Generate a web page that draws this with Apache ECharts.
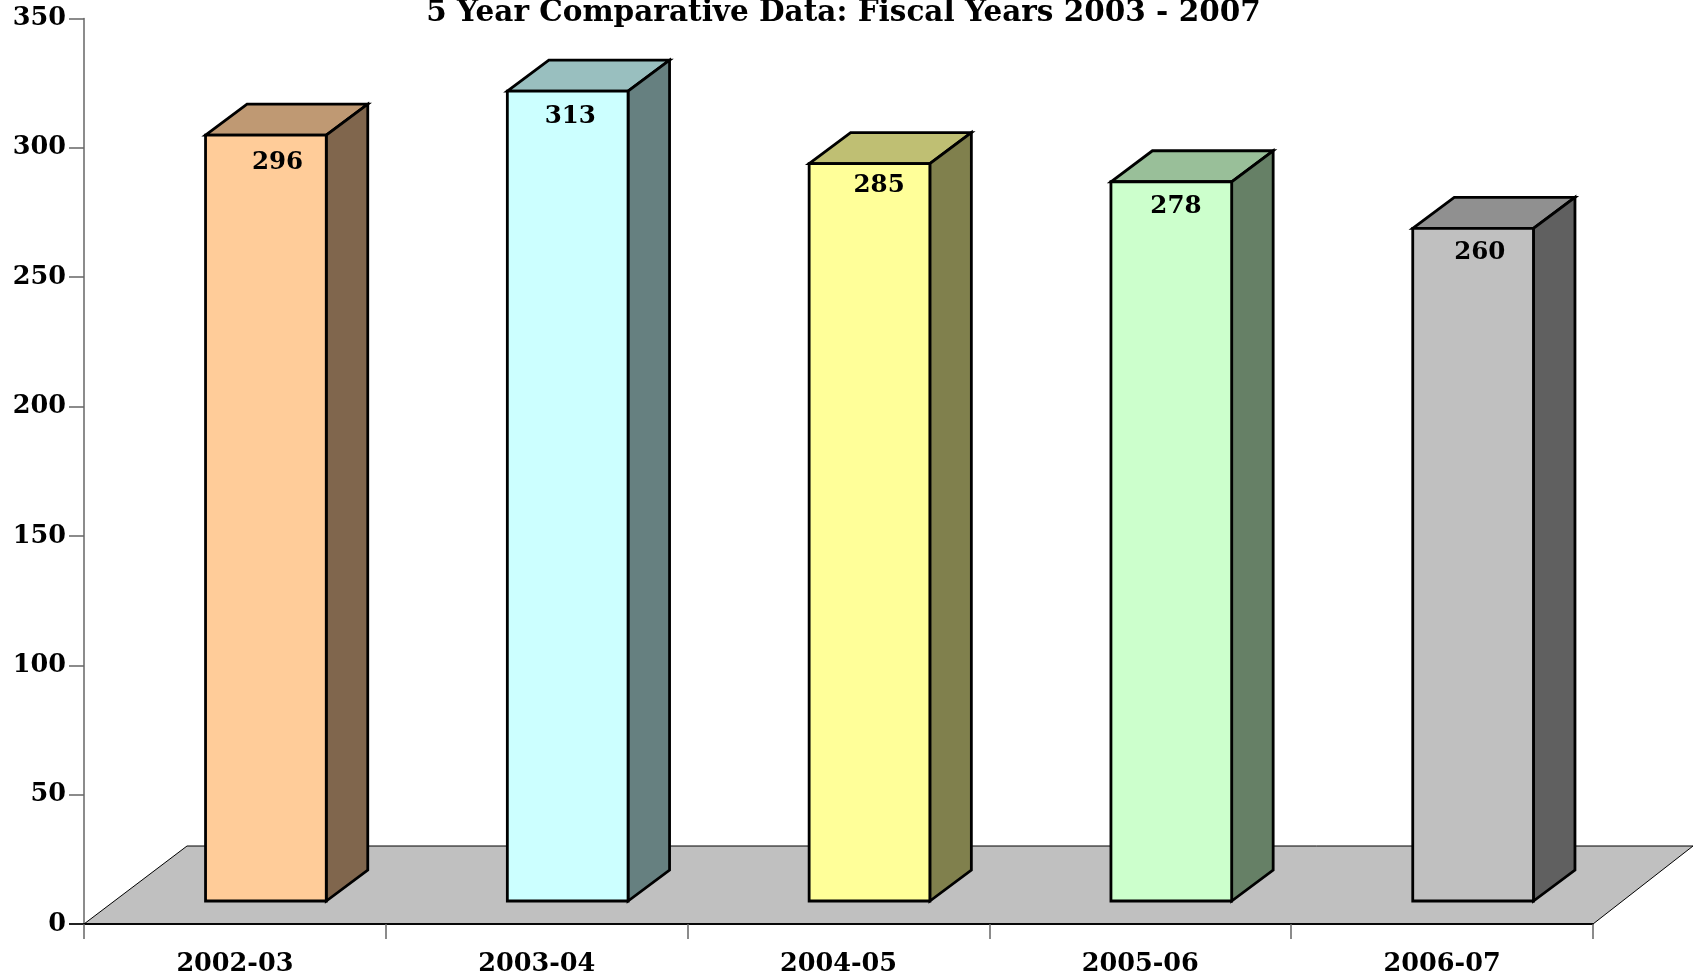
<!DOCTYPE html>
<html>
<head>
<meta charset="utf-8">
<style>html,body{margin:0;padding:0;background:#fff}#chart{width:1693px;height:977px}</style>
<script src="https://cdn.jsdelivr.net/npm/echarts@6/dist/echarts.min.js"></script>
</head>
<body>
<div id="chart"></div>
<script>
const titleText = '5 Year Comparative Data: Fiscal Years 2003 - 2007';
const categories = ['2002-03', '2003-04', '2004-05', '2005-06', '2006-07'];
const values = [296, 313, 285, 278, 260];
const frontColors = ['#FFCC99', '#CCFFFF', '#FFFF99', '#CCFFCC', '#C0C0C0'];

const FONT = '"DejaVu Serif"';
const FLOOR_DX = 100, FLOOR_DY = 78;
const BAR_DX = 41.5, BAR_DY = 31, BASE_LIFT = 23;
const BAR_FRAC = 0.4, BAR_SHIFT = 31;
const LABEL_DX = [72, 63, 70, 65, 67], LABEL_DY = [27, 25, 22, 25, 24];

function shade(hex, f) {
  const n = parseInt(hex.slice(1), 16);
  const c = s => Math.round(((n >> s) & 255) * f);
  return 'rgb(' + c(16) + ',' + c(8) + ',' + c(0) + ')';
}

function renderFloor(params) {
  const g = params.coordSys;
  const xl = g.x, xr = g.x + g.width, yb = g.y + g.height;
  const pts = [[xl, yb], [xr, yb], [xr + FLOOR_DX, yb - FLOOR_DY], [xl + FLOOR_DX + 3, yb - FLOOR_DY]];
  return {
    type: 'group',
    children: [
      { type: 'polygon', shape: { points: pts }, style: { fill: '#C0C0C0', stroke: '#000', lineWidth: 1 } },
      { type: 'line', shape: { x1: xl - 15, y1: yb, x2: xr, y2: yb }, style: { stroke: '#000', lineWidth: 1.6 } }
    ]
  };
}

function renderBar(params, api) {
  const i = api.value(0);
  const band = api.size([1, 0])[0];
  const w = band * BAR_FRAC;
  const center = api.coord([i, 0]);
  const top = api.coord([i, api.value(1)]);
  const l = center[0] - w / 2 + BAR_SHIFT;
  const r = l + w;
  const b = center[1] - BASE_LIFT;
  const t = top[1] - BASE_LIFT;
  const base = frontColors[i];
  const line = { stroke: '#000', lineWidth: 2.8, lineJoin: 'miter' };
  return {
    type: 'group',
    children: [
      { type: 'polygon', shape: { points: [[l, t], [r, t], [r + BAR_DX, t - BAR_DY], [l + BAR_DX, t - BAR_DY]] },
        style: Object.assign({ fill: shade(base, 0.75) }, line) },
      { type: 'polygon', shape: { points: [[r, t], [r + BAR_DX, t - BAR_DY], [r + BAR_DX, b - BAR_DY], [r, b]] },
        style: Object.assign({ fill: shade(base, 0.5) }, line) },
      { type: 'polygon', shape: { points: [[l, t], [r, t], [r, b], [l, b]] },
        style: Object.assign({ fill: base }, line) },
      { type: 'text', x: l + LABEL_DX[i], y: t + LABEL_DY[i],
        style: { text: String(api.value(1)), fill: '#000', font: 'bold 24.5px ' + FONT, align: 'center', verticalAlign: 'middle' } }
    ]
  };
}

const chart = echarts.init(document.getElementById('chart'), null, { renderer: 'canvas' });
chart.setOption({
  animation: false,
  backgroundColor: '#fff',
  title: {
    text: titleText, left: 838.5, top: -7, textAlign: 'center',
    textStyle: { fontFamily: FONT, fontWeight: 'bold', fontSize: 29.5, color: '#000' }
  },
  grid: { left: 84, right: 100, top: 18.5, bottom: 53, containLabel: false },
  xAxis: {
    type: 'category', data: categories, z: 1,
    axisLine: { lineStyle: { color: '#000', width: 1.6 } },
    axisTick: { show: true, length: 15, alignWithLabel: false, lineStyle: { color: '#666', width: 1.5 } },
    axisLabel: { margin: 27, fontFamily: FONT, fontWeight: 'bold', fontSize: 25.5, color: '#000', interval: 0 },
    splitLine: { show: false }
  },
  yAxis: {
    type: 'value', min: 0, max: 350, interval: 50,
    axisLine: { show: true, lineStyle: { color: '#666', width: 1.5 } },
    axisTick: { show: true, length: 15, lineStyle: { color: '#666', width: 1.5 } },
    axisLabel: { margin: 18, padding: [7, 0, 0, 0], fontFamily: FONT, fontWeight: 'bold', fontSize: 25.5, color: '#000' },
    splitLine: { show: false }
  },
  series: [
    { type: 'custom', z: 1, silent: true, data: [[0, 0]], encode: { x: 0, y: 1 }, renderItem: renderFloor },
    { type: 'custom', z: 3, silent: true, data: values.map((v, i) => [i, v]), encode: { x: 0, y: 1 }, renderItem: renderBar }
  ]
});
</script>
</body>
</html>
